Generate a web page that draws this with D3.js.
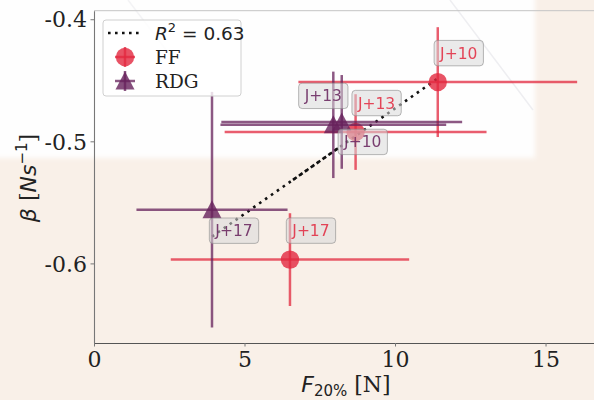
<!DOCTYPE html>
<html>
<head>
<script src="https://d3js.org/d3.v7.min.js"></script>
<style>
  body { margin: 0; background: #f8efe7; }
  svg { display: block; }
</style>
</head>
<body>
<svg id="chart" width="594" height="400"></svg>
<script>
// values
var ffLabels = ["J+10", "J+13", "J+17"];
var ffX = [11.42, 8.69, 6.51];
var ffY = [-0.4515, -0.4924, -0.5969];
var ffXErr = [4.63, 4.35, 3.96];
var ffYErr = [0.045, 0.031, 0.038];

var rdgLabels = ["J+17", "J+13", "J+10"];
var rdgX = [3.92, 7.95, 8.23];
var rdgY = [-0.556, -0.4865, -0.4841];
var rdgXErr = [2.51, 3.75, 4.0];
var rdgYErr = [0.0965, 0.0436, 0.0384];

var xTicks = [0, 5, 10, 15];
var yTicks = [-0.4, -0.5, -0.6];

var red = "#e2283e", purple = "#66215b";
var serif = "'DejaVu Serif', serif", sans = "'DejaVu Sans', sans-serif";

var svg = d3.select("#chart");

// backdrop (white patch top-left)
svg.append("rect").attr("width", 594).attr("height", 400).attr("fill", "#f9f0e8");
var defs = svg.append("defs");
defs.append("filter").attr("id", "soft").append("feGaussianBlur").attr("stdDeviation", 2.5);
svg.append("rect").attr("x", -10).attr("y", -10).attr("width", 545).attr("height", 168)
    .attr("fill", "#fefefe").attr("filter", "url(#soft)");
svg.append("line").attr("x1", 450).attr("y1", 0).attr("x2", 533).attr("y2", 110)
    .attr("stroke", "#eeeef1").attr("stroke-width", 1.5);
svg.append("line").attr("x1", 128).attr("y1", 0).attr("x2", 170).attr("y2", 55)
    .attr("stroke", "#f3f3f5").attr("stroke-width", 1.5);

var x = d3.scaleLinear().domain([0, 16.61]).range([94, 594]);
var y = d3.scaleLinear().domain([-0.6652, -0.3930]).range([343, 10.7]);

// spines
svg.append("line").attr("x1", 94).attr("x2", 594).attr("y1", 10.7).attr("y2", 10.7)
    .attr("stroke", "#c4c4c4").attr("stroke-width", 1);

var xAxis = svg.append("g").attr("transform", "translate(0,343)")
    .call(d3.axisBottom(x).tickValues(xTicks).tickSize(3.5).tickSizeOuter(0).tickFormat(d3.format("d")));
xAxis.select(".domain").attr("stroke", "#555").attr("stroke-width", 1.2);
xAxis.selectAll(".tick line").attr("stroke", "#777");
xAxis.selectAll(".tick text").attr("font-family", serif).attr("font-size", 22)
    .attr("fill", "#222").attr("dy", 0).attr("y", 24);

var yAxis = svg.append("g").attr("transform", "translate(94,0)")
    .call(d3.axisLeft(y).tickValues(yTicks).tickSize(3.5).tickSizeOuter(0).tickFormat(function(d) { return d.toFixed(1); }));
yAxis.select(".domain").attr("stroke", "#777").attr("stroke-width", 1.1);
yAxis.selectAll(".tick line").attr("stroke", "#777");
yAxis.selectAll(".tick text").attr("font-family", serif).attr("font-size", 22)
    .attr("fill", "#222").attr("x", -7).attr("dy", "0.35em");

// axis labels
var xl = svg.append("text").attr("x", 346).attr("y", 392).attr("text-anchor", "middle")
    .attr("font-size", 22).attr("fill", "#222");
xl.append("tspan").attr("font-family", sans).attr("font-style", "italic").text("F");
xl.append("tspan").attr("font-family", sans).attr("font-size", 15).attr("dy", 4).text("20%");
xl.append("tspan").attr("font-family", serif).attr("dy", -4).text(" [N]");

var yl = svg.append("text").attr("transform", "translate(36,178) rotate(-90)")
    .attr("text-anchor", "middle").attr("font-size", 22).attr("fill", "#222");
yl.append("tspan").attr("font-family", sans).attr("font-style", "italic").text("β");
yl.append("tspan").attr("font-family", serif).text(" [");
yl.append("tspan").attr("font-family", sans).attr("font-style", "italic").text("Ns");
yl.append("tspan").attr("font-family", sans).attr("font-size", 15).attr("dy", -9).text("−1");
yl.append("tspan").attr("font-family", serif).attr("dy", 9).text("]");

// least squares fit over all points
var allX = ffX.concat(rdgX), allY = ffY.concat(rdgY);
var mx = d3.mean(allX), my = d3.mean(allY);
var sxy = d3.sum(allX, function(v, i) { return (v - mx) * (allY[i] - my); });
var sxx = d3.sum(allX, function(v) { return (v - mx) * (v - mx); });
var syy = d3.sum(allY, function(v) { return (v - my) * (v - my); });
var slope = sxy / sxx, icpt = my - slope * mx;
var r2 = sxy * sxy / (sxx * syy);
var fit = function(v) { return icpt + slope * v; };

var fitG = svg.append("g");
[[d3.min(rdgX), d3.max(rdgX), 0], [d3.min(ffX), d3.max(ffX), 3.5]].forEach(function(r) {
    fitG.append("line")
        .attr("x1", x(r[0])).attr("y1", y(fit(r[0])))
        .attr("x2", x(r[1])).attr("y2", y(fit(r[1])))
        .attr("stroke", "#111").attr("stroke-width", 2.6)
        .attr("stroke-dasharray", "2.6 4.6").attr("stroke-dashoffset", r[2]);
});

// errorbars + markers
function series(xs, ys, xe, ye, color, shape) {
    var g = svg.append("g");
    var pts = xs.map(function(v, i) { return {x: v, y: ys[i], xe: xe[i], ye: ye[i]}; });
    g.selectAll("line.h").data(pts).enter().append("line").attr("class", "h")
        .attr("x1", d => x(d.x - d.xe)).attr("x2", d => x(d.x + d.xe))
        .attr("y1", d => y(d.y)).attr("y2", d => y(d.y))
        .attr("stroke", color).attr("stroke-width", 2.5).attr("opacity", 0.75);
    g.selectAll("line.v").data(pts).enter().append("line").attr("class", "v")
        .attr("x1", d => x(d.x)).attr("x2", d => x(d.x))
        .attr("y1", d => y(d.y - d.ye)).attr("y2", d => y(d.y + d.ye))
        .attr("stroke", color).attr("stroke-width", 2.5).attr("opacity", 0.75);
    g.selectAll("path.m").data(pts).enter().append("path").attr("class", "m")
        .attr("transform", d => "translate(" + x(d.x) + "," + y(d.y) + ")")
        .attr("d", shape).attr("fill", color).attr("opacity", 0.8);
}
var circle = d3.symbol().type(d3.symbolCircle).size(Math.PI * 9.2 * 9.2)();
var tri = "M0,-9.5L9.5,8.5L-9.5,8.5Z";
series(ffX, ffY, ffXErr, ffYErr, red, circle);
series(rdgX, rdgY, rdgXErr, rdgYErr, purple, tri);

// annotation boxes (offset from point, in px)
function labels(xs, ys, names, color, offs) {
    names.forEach(function(n, i) {
        var cx = x(xs[i]) + offs[i][0], cy = y(ys[i]) + offs[i][1];
        var g = svg.append("g");
        var t = g.append("text").attr("x", cx).attr("y", cy).attr("dy", "0.36em")
            .attr("text-anchor", "middle").attr("font-family", sans).attr("font-size", 15.5)
            .attr("fill", color).attr("opacity", 0.85).text(n);
        var w = t.node().getComputedTextLength() + 12;
        g.insert("rect", "text").attr("x", cx - w / 2).attr("y", cy - 12.7)
            .attr("width", w).attr("height", 25.4).attr("rx", 3.5)
            .attr("fill", "#d8d8d8").attr("fill-opacity", 0.55)
            .attr("stroke", "#888").attr("stroke-opacity", 0.6).attr("stroke-width", 1);
    });
}
labels(ffX, ffY, ffLabels, red, [[21, -29], [21, -29], [21, -29]]);
labels(rdgX, rdgY, rdgLabels, purple, [[22, 21], [-10, -29], [21, 20]]);

// legend
var lg = svg.append("g");
lg.append("rect").attr("x", 103).attr("y", 20).attr("width", 138).attr("height", 76).attr("rx", 3)
    .attr("fill", "#fff").attr("fill-opacity", 0.8).attr("stroke", "#d0d0d0");
lg.append("line").attr("x1", 108).attr("x2", 141).attr("y1", 33).attr("y2", 33)
    .attr("stroke", "#111").attr("stroke-width", 2.6).attr("stroke-dasharray", "2.6 4.4");
var lt = lg.append("text").attr("x", 155).attr("y", 40).attr("font-family", sans)
    .attr("font-size", 18.5).attr("fill", "#222");
lt.append("tspan").attr("font-style", "italic").text("R");
lt.append("tspan").attr("font-size", 13).attr("dy", -8).text("2");
lt.append("tspan").attr("dy", 8).text(" = " + r2.toFixed(2));

[[57, red, circle, "FF"], [81, purple, tri, "RDG"]].forEach(function(e) {
    lg.append("line").attr("x1", 115).attr("x2", 135).attr("y1", e[0]).attr("y2", e[0])
        .attr("stroke", e[1]).attr("stroke-width", 2.5).attr("opacity", 0.75);
    lg.append("line").attr("x1", 125).attr("x2", 125).attr("y1", e[0] - 10).attr("y2", e[0] + 10)
        .attr("stroke", e[1]).attr("stroke-width", 2.5).attr("opacity", 0.75);
    lg.append("path").attr("transform", "translate(125," + e[0] + ")").attr("d", e[2])
        .attr("fill", e[1]).attr("opacity", 0.8);
    lg.append("text").attr("x", 155).attr("y", e[0] + 7).attr("font-family", serif)
        .attr("font-size", 18.5).attr("fill", "#222").text(e[3]);
});
</script>
</body>
</html>
